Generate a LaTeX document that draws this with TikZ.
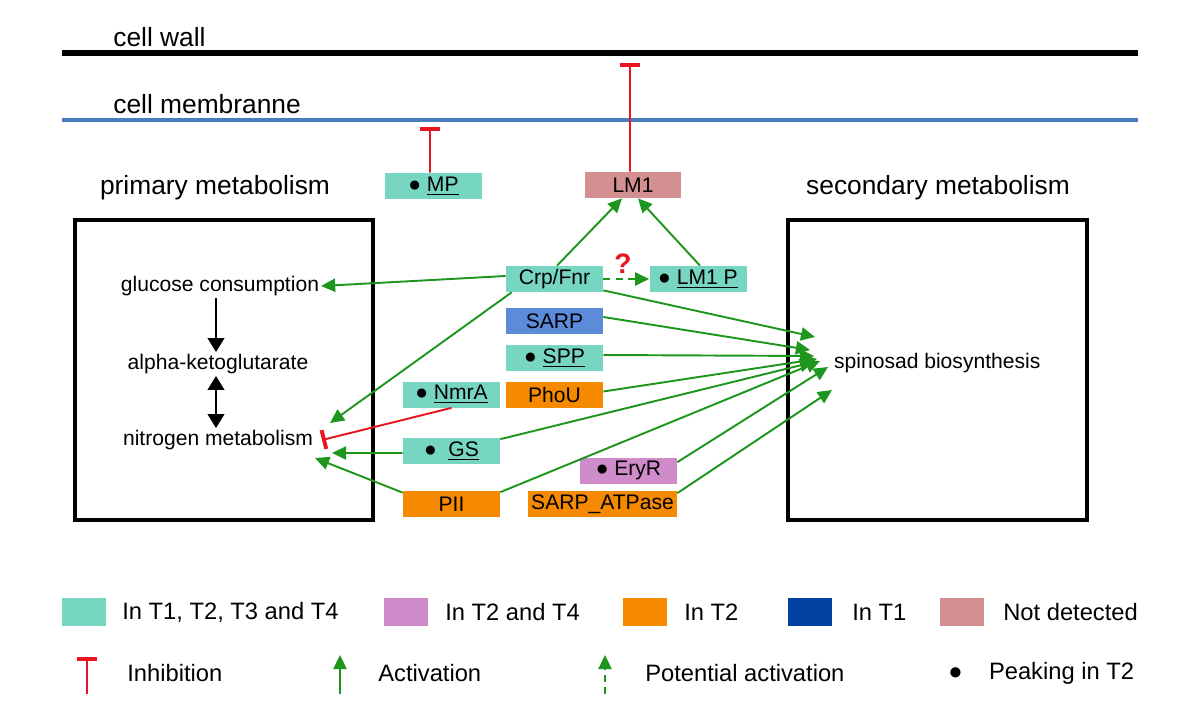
\documentclass[tikz,border=0pt]{standalone}
\usepackage{fontspec}
\setmainfont{Liberation Sans}
\usetikzlibrary{arrows.meta}
\definecolor{tealbox}{RGB}{118,214,194}
\definecolor{rosebox}{RGB}{212,144,144}
\definecolor{sarpblue}{RGB}{91,139,217}
\definecolor{darkblue}{RGB}{0,65,160}
\definecolor{orangebox}{RGB}{245,138,0}
\definecolor{purplebox}{RGB}{208,139,203}
\definecolor{actgreen}{RGB}{30,150,30}
\definecolor{inhred}{RGB}{232,20,30}
\definecolor{membblue}{RGB}{74,126,187}
\begin{document}
\begin{tikzpicture}[x=0.02cm, y=-0.02cm,
  gene/.style={minimum width=1.94cm, minimum height=0.52cm, inner sep=0pt, font=\fontsize{12}{14}\selectfont},
  lbl/.style={inner sep=1pt, font=\fontsize{12}{14}\selectfont},
  head/.style={inner sep=0pt, font=\fontsize{15}{18}\selectfont},
  legtxt/.style={anchor=west, inner sep=0pt, font=\fontsize{13.5}{16}\selectfont},
  swatch/.style={minimum width=0.88cm, minimum height=0.56cm, inner sep=0pt},
  compart/.style={draw, line width=2.3pt},
  act/.style={draw=actgreen, line width=1.1pt, -{Triangle[length=8pt,width=7.5pt]}},
  pact/.style={act, dashed, dash pattern=on 4pt off 3pt},
  inh/.style={draw=inhred, line width=1.1pt, -{Bar[width=11pt,line width=2.2pt]}},
  flow/.style={line width=1.1pt, -{Triangle[length=8pt,width=9.5pt]}}
]
\useasboundingbox (0,0) rectangle (1200,706);

% cell boundaries
\draw[line width=3.6pt] (62,53) -- (1138,53);
\draw[membblue, line width=2pt] (62,120) -- (1138,120);
\node[head, anchor=west] (wall) at (113,37) {cell wall};
\node[head, anchor=west] (memb) at (113,104) {cell membranne};

% compartments
\node[head] (primh) at (215,188) {primary metabolism};
\node[head] (sech)  at (938,188) {secondary metabolism};
\draw[compart] (75,220) rectangle (373,520);
\draw[compart] (788,220) rectangle (1087,520);

\node[lbl] (glc) at (220,286) {glucose consumption};
\node[lbl] (akg) at (218,364) {alpha-ketoglutarate};
\node[lbl] (nit) at (218,440) {nitrogen metabolism};
\node[lbl, anchor=west] (spn) at (832,363) {spinosad biosynthesis};
\draw[flow] ([xshift=-0.04cm]akg.north |- glc.south) -- ([xshift=-0.04cm]akg.north);
\draw[flow, {Triangle[length=8pt,width=9.5pt]}-{Triangle[length=8pt,width=9.5pt]}] ([xshift=-0.04cm]akg.south) -- ([xshift=-0.04cm]nit.north);

% regulators
\node[gene, fill=tealbox] (mp)   at (433.5,186) {● \underline{MP}};
\node[gene, fill=rosebox] (lm1)  at (633,185)   {LM1};
\node[gene, fill=tealbox] (crp)  at (554.5,279) {Crp/Fnr};
\node[gene, fill=tealbox] (lm1p) at (698,279)   {● \underline{LM1 P}};
\node[gene, fill=sarpblue] (sarp) at (554.5,321) {SARP};
\node[gene, fill=tealbox] (spp)  at (554.5,358) {● \underline{SPP}};
\node[gene, fill=tealbox] (nmra) at (451.5,394.5) {● \underline{NmrA}};
\node[gene, fill=orangebox] (phou) at (554.5,394.5) {PhoU};
\node[gene, fill=tealbox] (gs)   at (451.5,451) {● \ \underline{GS}};
\node[gene, fill=purplebox] (eryr) at (628.5,470.5) {● EryR};
\node[gene, fill=orangebox] (pii)  at (451.5,504) {PII};
\node[gene, fill=orangebox, minimum width=2.98cm] (atp) at (602.5,504) {SARP\_ATPase};

% inhibition at the envelope
\coordinate (mpend) at (430,127);
\coordinate (lmend) at (630,63);
\draw[inh] ([xshift=-0.07cm]mp.north) -- (mpend);
\draw[inh] ([xshift=-0.06cm]lm1.north) -- (lmend);

% around Crp/Fnr
\draw[act] ([xshift=0.05cm]crp.north) -- ([xshift=-0.22cm]lm1.south);
\draw[act] ([xshift=0.04cm]lm1p.north) -- ([xshift=0.1cm]lm1.south);
\draw[pact] (crp.east) -- (lm1p.west);
\node[text=inhred, font=\bfseries\fontsize{16}{18}\selectfont] (qm) at (623,264) {?};
\draw[act] ([yshift=0.06cm]crp.west) -- (glc.east);
\draw[act] ([xshift=0.12cm]crp.south west) -- ([xshift=0.3cm, yshift=0.34cm]nit.east);

% primary metabolism targets
\draw[inh] (nmra.south) -- ([xshift=0.14cm]nit.east);
\draw[act] ([yshift=-0.04cm]gs.west) -- ([xshift=0.34cm, yshift=-0.26cm]nit.east);
\draw[act] ([yshift=-0.04cm]pii.north west) -- ([yshift=-0.36cm]nit.east);

% spinosad targets
\draw[act] ([yshift=0.04cm]crp.south east) -- ([xshift=-0.34cm, yshift=0.52cm]spn.west);
\draw[act] ([yshift=0.08cm]sarp.east) -- ([xshift=-0.44cm, yshift=0.26cm]spn.west);
\draw[act] ([yshift=0.06cm]spp.east) -- ([xshift=-0.36cm, yshift=0.14cm]spn.west);
\draw[act] ([yshift=0.06cm]phou.east) -- ([xshift=-0.3cm, yshift=0.08cm]spn.west);
\draw[act] ([yshift=-0.03cm]gs.north east) -- ([xshift=-0.36cm, yshift=0.02cm]spn.west);
\draw[act] ([yshift=-0.03cm]pii.north east) -- ([xshift=-0.24cm, yshift=0.04cm]spn.west);
\draw[act] ([yshift=-0.1cm]eryr.north east) -- ([xshift=-0.08cm, yshift=-0.08cm]spn.west);
\draw[act] ([yshift=-0.05cm]atp.north east) -- ([xshift=0cm, yshift=-0.54cm]spn.west);

% legend
\node[swatch, fill=tealbox]   (k1) at (84,612)  {};
\node[legtxt] (t1) at (122,612)  {In T1, T2, T3 and T4};
\node[swatch, fill=purplebox] (k2) at (406,612) {};
\node[legtxt] (t2) at (445,612)  {In T2 and T4};
\node[swatch, fill=orangebox] (k3) at (645,612) {};
\node[legtxt] (t3) at (684,612)  {In T2};
\node[swatch, fill=darkblue]  (k4) at (810,612) {};
\node[legtxt] (t4) at (852,612)  {In T1};
\node[swatch, fill=rosebox]   (k5) at (962,612) {};
\node[legtxt] (t5) at (1003,612) {Not detected};

\coordinate (i0) at (87,694);  \coordinate (i1) at (87,657);
\coordinate (a0) at (340,694); \coordinate (a1) at (340,655);
\coordinate (p0) at (605,694); \coordinate (p1) at (605,655);
\draw[inh] (i0) -- (i1);
\draw[act] (a0) -- (a1);
\draw[pact] (p0) -- (p1);
\node[legtxt] (t6) at (127,673) {Inhibition};
\node[legtxt] (t7) at (378,673) {Activation};
\node[legtxt] (t8) at (645,673) {Potential activation};
\node[legtxt] (t9) at (948,673) {●\ \ \ \ Peaking in T2};
\end{tikzpicture}
\end{document}
